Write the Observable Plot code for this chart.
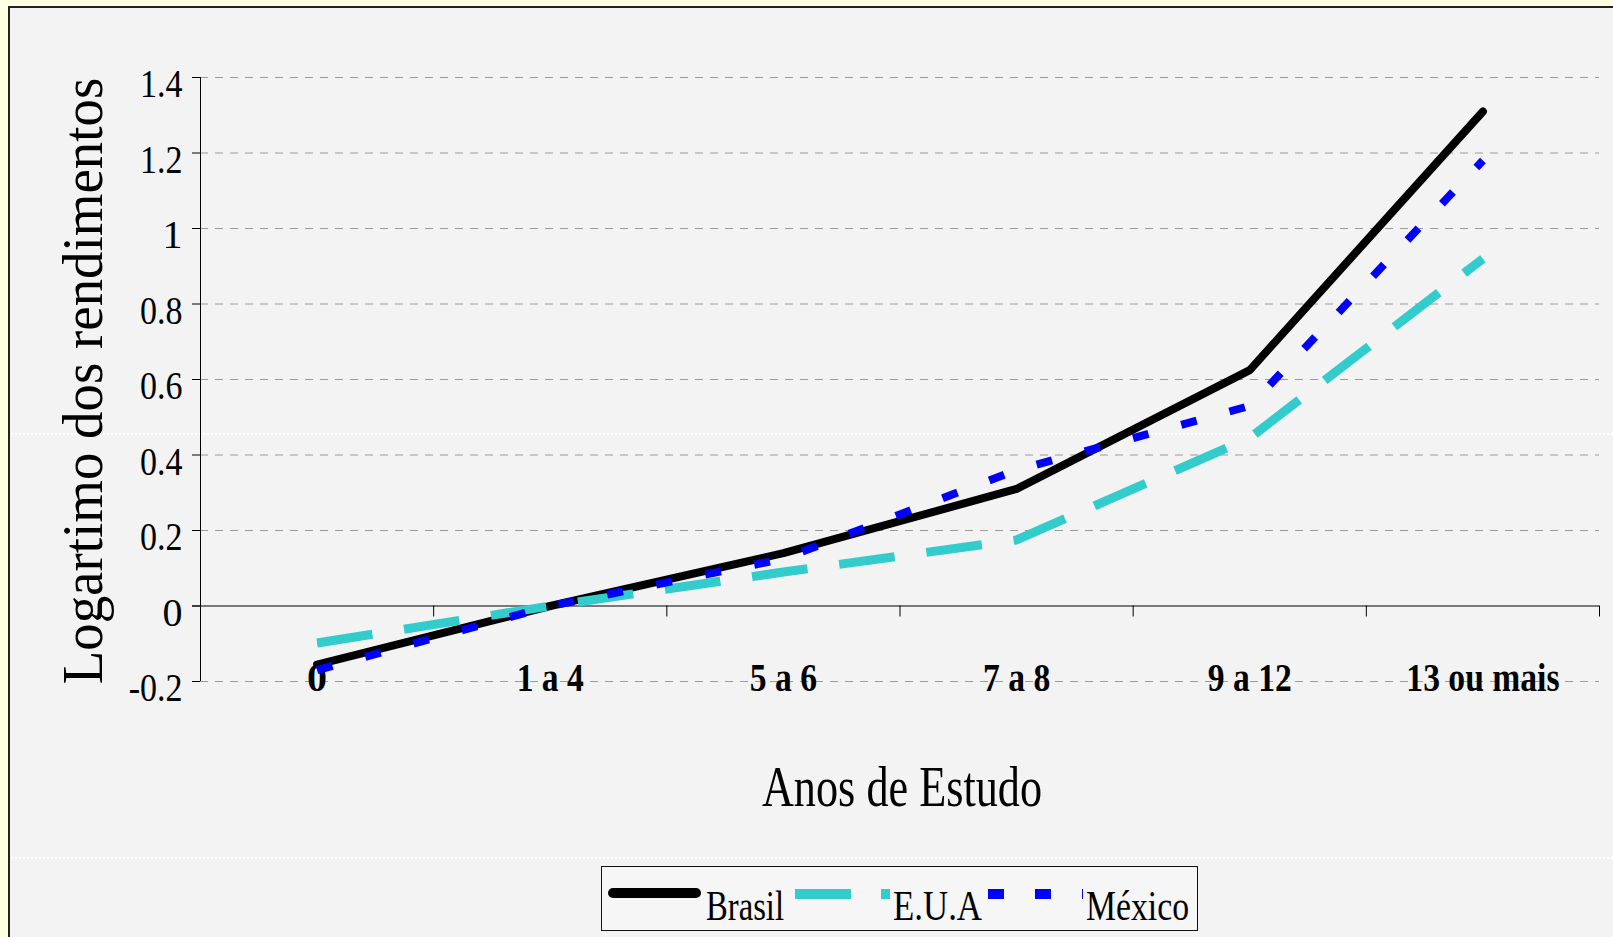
<!DOCTYPE html>
<html><head><meta charset="utf-8">
<script src="https://cdn.jsdelivr.net/npm/d3@7"></script>
<script src="https://cdn.jsdelivr.net/npm/@observablehq/plot@0.6"></script>
<style>
html,body{margin:0;padding:0;}
body{width:1613px;height:937px;background:#FFFFE1;position:relative;overflow:hidden;font-family:"Liberation Serif",serif;}
#panel{position:absolute;left:8px;top:6px;right:0;bottom:0;background:#F3F3F3;border-left:2px solid #222;border-top:2px solid #222;}
.streak{position:absolute;left:11px;right:0;height:0;border-top:2px dotted #ffffff;}
#chart{position:absolute;left:0;top:0;}
#legend{position:absolute;left:601px;top:866px;width:597px;height:65px;box-sizing:border-box;border:1px solid #111;background:#F6F6F6;overflow:visible;}
</style></head><body>
<div id="panel"></div>
<div class="streak" style="top:433px"></div>
<div class="streak" style="top:857px"></div>
<div id="chart"></div>
<div id="legend"></div>
<script>
const categories = ["0", "1 a 4", "5 a 6", "7 a 8", "9 a 12", "13 ou mais"];
const brasil = [-0.155, 0.0, 0.14, 0.31, 0.625, 1.31];
const eua    = [-0.098, 0.0, 0.09, 0.175, 0.445, 0.92];
const mexico = [-0.17, 0.0, 0.125, 0.36, 0.53, 1.18];
const yTicks = [-0.2, 0, 0.2, 0.4, 0.6, 0.8, 1, 1.2, 1.4];
const seriesNames = ["Brasil", "E.U.A", "México"];
const xTitle = "Anos de Estudo";
const yTitle = "Logartimo dos rendimentos";

const idx = categories.map((_, i) => i);
const bounds = idx.map(i => i + 0.5);
const gridVals = yTicks.filter(d => d !== 0);
const xMin = -0.5, xMax = categories.length - 0.5;

const plot = Plot.plot({
  width: 1613, height: 830,
  marginLeft: 200, marginRight: 14, marginTop: 77, marginBottom: 149,
  style: {background: "transparent", fontFamily: "Liberation Serif", overflow: "visible"},
  x: {domain: [xMin, xMax], axis: null},
  y: {domain: [yTicks[0], yTicks[yTicks.length - 1]], axis: null},
  marks: [
    Plot.ruleY(gridVals, {x1: xMin, x2: xMax, stroke: "#9a9a9a", strokeDasharray: "8,7"}),
    Plot.ruleY([0], {x1: xMin, x2: xMax, insetLeft: -8, stroke: "#000"}),
    Plot.ruleX([xMin], {y1: yTicks[0], y2: yTicks[yTicks.length - 1], stroke: "#000"}),
    Plot.ruleY(yTicks, {x1: xMin, x2: xMin, insetLeft: -8, stroke: "#000"}),
    Plot.ruleX(bounds, {y1: 0, y2: 0, insetBottom: -11, stroke: "#000"}),
    Plot.text(yTicks, {x: xMin, y: d => d, text: d => String(d), textAnchor: "end", dx: -18, dy: 7, fontSize: 40, fill: "#000"}),
    Plot.text(categories, {x: (d, i) => i, text: d => d, frameAnchor: "bottom", lineAnchor: "bottom", dy: 9, fontSize: 40, fontWeight: "bold", fill: "#000"}),
    Plot.text([xTitle], {frameAnchor: "bottom", textAnchor: "middle", lineAnchor: "bottom", dx: 2, dy: 124, fontSize: 56, fill: "#000"}),
    Plot.text([yTitle], {frameAnchor: "left", textAnchor: "middle", rotate: -90, lineAnchor: "bottom", dx: -99, dy: 1.5, fontSize: 56, fill: "#000"}),
    Plot.line(brasil, {x: (d, i) => i, y: d => d, stroke: "#000", strokeWidth: 8, strokeLinecap: "round", strokeLinejoin: "round"}),
    Plot.line(eua, {x: (d, i) => i, y: d => d, stroke: "#33CCCC", strokeWidth: 9, strokeDasharray: "56,32", strokeLinecap: "butt"}),
    Plot.line(mexico, {x: (d, i) => i, y: d => d, stroke: "#0000FF", strokeWidth: 8, strokeDasharray: "16,34", strokeLinecap: "butt"})
  ]
});
document.getElementById("chart").appendChild(plot);

// compress text horizontally like the original rendering
plot.querySelectorAll("text").forEach(t => {
  const cs = getComputedStyle(t);
  const txt = t.textContent;
  let r = 1;
  if (txt === xTitle) r = 0.79;
  else if (txt === yTitle) r = 0.98;
  else if (cs.fontWeight === "700" || cs.fontWeight === "bold") r = 0.84;
  else r = 0.85;
  if (txt.length > 1) {
    const L = t.getComputedTextLength();
    t.setAttribute("textLength", (L * r).toFixed(1));
    t.setAttribute("lengthAdjust", "spacingAndGlyphs");
  }
});

// legend
const lg = d3.select("#legend").append("svg").attr("width", 595).attr("height", 63)
  .style("font-family", "Liberation Serif").style("display", "block").style("overflow", "visible");
lg.append("line").attr("x1", 11).attr("x2", 94).attr("y1", 26).attr("y2", 26)
  .attr("stroke", "#000").attr("stroke-width", 10).attr("stroke-linecap", "round");
lg.append("line").attr("x1", 193).attr("x2", 288).attr("y1", 27).attr("y2", 27)
  .attr("stroke", "#33CCCC").attr("stroke-width", 10).attr("stroke-dasharray", "56,30");
lg.append("line").attr("x1", 386).attr("x2", 481).attr("y1", 27).attr("y2", 27)
  .attr("stroke", "#0000FF").attr("stroke-width", 10).attr("stroke-dasharray", "16,31");
const legendText = [{x: 104, w: 78}, {x: 291, w: 89}, {x: 484, w: 103}];
seriesNames.forEach((name, i) => {
  lg.append("text").attr("x", legendText[i].x).attr("y", 53)
    .attr("font-size", 42).attr("fill", "#000")
    .attr("textLength", legendText[i].w).attr("lengthAdjust", "spacingAndGlyphs")
    .text(name);
});
</script>
</body></html>
